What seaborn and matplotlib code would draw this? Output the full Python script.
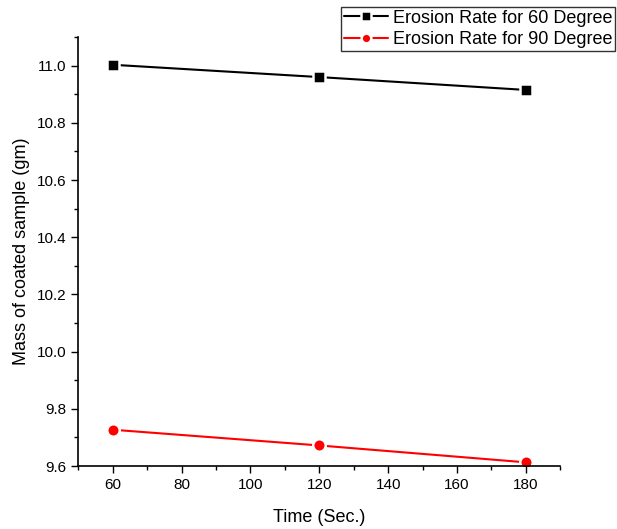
import matplotlib
matplotlib.use("Agg")
import matplotlib.pyplot as plt
import pandas as pd
import seaborn as sns
from matplotlib.ticker import MultipleLocator, FormatStrFormatter

time_sec = [60, 120, 180]
mass_60deg = [11.003, 10.960, 10.915]
mass_90deg = [9.727, 9.672, 9.613]
series_names = ["Erosion Rate for 60 Degree", "Erosion Rate for 90 Degree"]

sns.set_theme(style="ticks")
plt.rcParams["font.family"] = ["Liberation Sans", "DejaVu Sans"]
plt.rcParams["text.color"] = "black"
plt.rcParams["axes.labelcolor"] = "black"

df = pd.DataFrame({
    "time": time_sec * 2,
    "mass": mass_60deg + mass_90deg,
    "series": [series_names[0]] * 3 + [series_names[1]] * 3,
})

fig = plt.figure(figsize=(6.17, 5.29), dpi=100)
ax = fig.add_axes([0.127, 0.119, 0.781, 0.811])

sns.lineplot(
    data=df, x="time", y="mass", hue="series", style="series",
    palette=["black", "red"], markers=["s", "o"], dashes=False,
    markersize=9, markeredgecolor="white", markeredgewidth=1.8,
    linewidth=1.5, ax=ax,
)

ax.set_xlim(50, 190)
ax.set_ylim(9.6, 11.1)
ax.xaxis.set_major_locator(MultipleLocator(20))
ax.xaxis.set_minor_locator(MultipleLocator(10))
ax.yaxis.set_major_locator(MultipleLocator(0.2))
ax.yaxis.set_minor_locator(MultipleLocator(0.1))
ax.tick_params(which="major", length=5, width=1, labelsize=11, direction="out", colors="black")
ax.tick_params(which="minor", length=3, width=1, direction="out", colors="black")
ax.yaxis.set_major_formatter(FormatStrFormatter("%.1f"))
sns.despine(ax=ax)
for sp in ["left", "bottom"]:
    ax.spines[sp].set_linewidth(1.2)
    ax.spines[sp].set_color("black")

ax.set_xlabel("Time (Sec.)", fontsize=13, labelpad=12, color="black")
ax.set_ylabel("Mass of coated sample (gm)", fontsize=13, labelpad=5, color="black")

leg = ax.legend(
    loc="upper right", bbox_to_anchor=(0.997, 0.987), bbox_transform=fig.transFigure,
    fontsize=13, frameon=True, fancybox=False, edgecolor="black",
    handlelength=2.4, handletextpad=0.3, borderpad=0.15, labelspacing=0.25,
    borderaxespad=0,
)
leg.get_frame().set_linewidth(1)
for t in leg.get_texts():
    t.set_color("black")
for h in leg.legend_handles:
    h.set_markersize(7)

fig.savefig("out.png", dpi=100)
